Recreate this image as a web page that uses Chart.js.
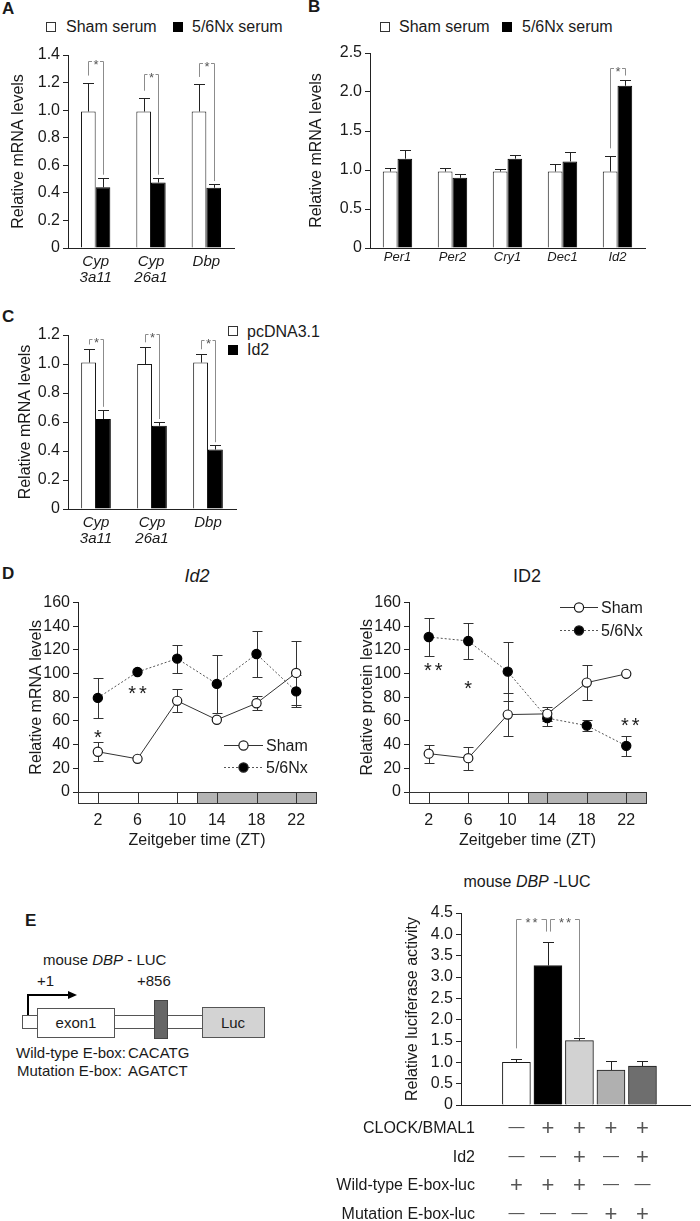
<!DOCTYPE html>
<html><head><meta charset="utf-8">
<script src="https://cdn.jsdelivr.net/npm/chart.js@4.4.1/dist/chart.umd.min.js"></script>
<style>
html,body{margin:0;padding:0;background:#fff}
body{width:700px;height:1221px;position:relative;overflow:hidden;font-family:"Liberation Sans",Arial,Helvetica,sans-serif;color:#1a1a1a}
canvas{position:absolute}
.t{position:absolute;white-space:nowrap;line-height:16px;font-size:16px}
.t15{position:absolute;white-space:nowrap;line-height:15px;font-size:15px}
.L{position:absolute;font-weight:bold;font-size:17px;line-height:17px}
.sq{position:absolute;width:8px;height:8px;border:1px solid #333;background:#fff}
.sq.b{background:#000;border-color:#000}
.box{position:absolute;box-sizing:border-box;border:1px solid #555}
</style></head><body>

<!-- panel letters -->
<div class="L" style="left:2px;top:0px">A</div>
<div class="L" style="left:308px;top:-2px">B</div>
<div class="L" style="left:2px;top:308px">C</div>
<div class="L" style="left:2px;top:565px">D</div>
<div class="L" style="left:25px;top:912px">E</div>

<!-- legend A -->
<div class="sq" style="left:46px;top:22px"></div><div class="t" style="left:66px;top:19px">Sham serum</div>
<div class="sq b" style="left:173px;top:22px"></div><div class="t" style="left:192px;top:19px">5/6Nx serum</div>
<!-- legend B -->
<div class="sq" style="left:380px;top:22px"></div><div class="t" style="left:399px;top:19px">Sham serum</div>
<div class="sq b" style="left:502px;top:22px"></div><div class="t" style="left:522px;top:19px">5/6Nx serum</div>
<!-- legend C -->
<div class="sq" style="left:228px;top:326px"></div><div class="t" style="left:247px;top:324px">pcDNA3.1</div>
<div class="sq b" style="left:228px;top:345px"></div><div class="t" style="left:247px;top:342px">Id2</div>

<!-- D titles -->
<div class="t" style="left:197px;top:567px;font-size:18px;line-height:18px;font-style:italic;transform:translateX(-50%)">Id2</div>
<div class="t" style="left:527px;top:567px;font-size:18px;line-height:18px;transform:translateX(-50%)">ID2</div>

<!-- E right title -->
<div class="t" style="left:527px;top:874px;transform:translateX(-50%)">mouse <i>DBP</i> -LUC</div>

<!-- E left construct diagram -->
<div class="t15" style="left:43px;top:952px">mouse <i>DBP</i> - LUC</div>
<div class="t15" style="left:37px;top:973px">+1</div>
<div class="t15" style="left:137px;top:973px">+856</div>
<div style="position:absolute;left:27px;top:994px;width:2px;height:21px;background:#000"></div>
<div style="position:absolute;left:27px;top:994px;width:42px;height:2px;background:#000"></div>
<div style="position:absolute;left:68px;top:991px;width:0;height:0;border-top:4px solid transparent;border-bottom:4px solid transparent;border-left:9px solid #000"></div>
<div class="box" style="left:22px;top:1015px;width:182px;height:14px;background:#fff"></div>
<div class="box" style="left:37px;top:1008px;width:78px;height:30px;background:#fff"></div>
<div class="t15" style="left:76px;top:1015px;transform:translateX(-50%)">exon1</div>
<div class="box" style="left:154px;top:1000px;width:14px;height:39px;background:#666;border-color:#444"></div>
<div class="box" style="left:202px;top:1007px;width:63px;height:31px;background:#d3d3d3"></div>
<div class="t15" style="left:233px;top:1015px;transform:translateX(-50%)">Luc</div>
<div class="t15" style="left:16px;top:1045px;width:106px;text-align:right">Wild-type E-box:</div>
<div class="t15" style="left:128px;top:1045px">CACATG</div>
<div class="t15" style="left:16px;top:1063px;width:106px;text-align:right">Mutation E-box:</div>
<div class="t15" style="left:128px;top:1063px">AGATCT</div>

<script>
// ---------------- DATA ----------------
const genesA = [['Cyp','3a11'], ['Cyp','26a1'], 'Dbp'];
const shamA = [0.99, 0.99, 0.99];
const shamA_sem = [0.21, 0.10, 0.20];
const nxA = [0.44, 0.475, 0.437];
const nxA_sem = [0.07, 0.035, 0.027];
const bracketTopA = [1.355, 1.26, 1.345];

const genesB = ['Per1', 'Per2', 'Cry1', 'Dec1', 'Id2'];
const shamB = [0.98, 0.98, 0.98, 0.98, 0.98];
const shamB_sem = [0.04, 0.05, 0.03, 0.10, 0.195];
const nxB = [1.145, 0.90, 1.145, 1.11, 2.08];
const nxB_sem = [0.115, 0.05, 0.045, 0.125, 0.08];
const bracketTopB = 2.31;

const genesC = [['Cyp','3a11'], ['Cyp','26a1'], 'Dbp'];
const pcC = [1.01, 1.0, 1.01];
const pcC_sem = [0.09, 0.115, 0.057];
const id2C = [0.62, 0.574, 0.41];
const id2C_sem = [0.064, 0.026, 0.03];
const bracketTopC = [1.17, 1.21, 1.166];

const ztHours = [2, 6, 10, 14, 18, 22];
const mrnaSham = [34, 28, 77, 61, 75, 100.6];
const mrnaSham_sem = [8.2, 0, 9.8, 0, 6, 26.8];
const mrnaNx = [79.5, 101.4, 112.7, 91.3, 116.6, 85];
const mrnaNx_sem = [16.6, 0, 11.8, 24.7, 19.5, 13.5];
const protSham = [32.4, 28.6, 65.4, 66, 92.4, 99.8];
const protSham_sem = [7.5, 9.7, 18.5, 6, 14.8, 0];
const protNx = [130.9, 127.6, 101.7, 62.4, 56.1, 39];
const protNx_sem = [16.4, 15.5, 25, 7, 4.5, 8.5];
const lightDark = [[0, 12, '#ffffff'], [12, 24, '#b4b4b4']];

const lucGroups = [1, 2, 3, 4, 5];
const lucValues = [1.0, 3.27, 1.51, 0.82, 0.91];
const lucSem = [0.07, 0.56, 0.05, 0.2, 0.12];
const lucColors = ['#ffffff', '#000000', '#d2d2d2', '#b0b0b0', '#6e6e6e'];
const rowClock = ['—', '+', '+', '+', '+'];
const rowId2 = ['—', '—', '+', '—', '+'];
const rowWT = ['+', '+', '+', '—', '—'];
const rowMut = ['—', '—', '—', '+', '+'];

// ---------------- HELPERS ----------------
const FONT = '"Liberation Sans", Arial, Helvetica, sans-serif';
Chart.defaults.font.family = FONT;
Chart.defaults.color = '#1a1a1a';
Chart.defaults.animation = false;

function mk(left, top, w, h) {
  const c = document.createElement('canvas');
  c.width = w; c.height = h;
  c.style.left = left + 'px'; c.style.top = top + 'px';
  c.style.width = w + 'px'; c.style.height = h + 'px';
  document.body.appendChild(c);
  return c.getContext('2d');
}
const val = d => (d !== null && typeof d === 'object') ? d.y : d;

function stars(ctx, text, x, yc, size, color) {
  ctx.save();
  ctx.font = size + 'px ' + FONT;
  ctx.fillStyle = color;
  ctx.textAlign = 'center';
  ctx.textBaseline = 'alphabetic';
  let sp = 0;
  if (text.length > 1 && 'letterSpacing' in ctx) { sp = Math.round(size * 0.15); ctx.letterSpacing = sp + 'px'; }
  ctx.fillText(text, x + sp / 2, yc + 0.6 * size);
  ctx.restore();
}

const errBars = {
  id: 'errbars',
  beforeDatasetsDraw(chart, a, o) {
    const ctx = chart.ctx, ys = chart.scales.y;
    ctx.save(); ctx.strokeStyle = o.color || '#222'; ctx.lineWidth = 1;
    chart.data.datasets.forEach((ds, di) => {
      if (!ds.sem) return;
      chart.getDatasetMeta(di).data.forEach((el, i) => {
        const s = ds.sem[i]; if (!s) return;
        const v = val(ds.data[i]);
        const x = Math.round(el.x) + 0.5, hw = o.cap / 2;
        const yT = Math.round(ys.getPixelForValue(v + s)) + 0.5;
        const yB = o.both ? Math.round(ys.getPixelForValue(v - s)) + 0.5 : ys.getPixelForValue(v);
        ctx.beginPath();
        ctx.moveTo(x, yT); ctx.lineTo(x, yB);
        ctx.moveTo(x - hw, yT); ctx.lineTo(x + hw, yT);
        if (o.both) { ctx.moveTo(x - hw, yB); ctx.lineTo(x + hw, yB); }
        ctx.stroke();
      });
    });
    ctx.restore();
  }
};

const brackets = {
  id: 'brackets',
  afterDatasetsDraw(chart, a, o) {
    const ctx = chart.ctx, ys = chart.scales.y;
    const pt = (d, i) => {
      const ds = chart.data.datasets[d], el = chart.getDatasetMeta(d).data[i];
      return { x: el.x, y: ys.getPixelForValue(val(ds.data[i]) + (ds.sem ? ds.sem[i] : 0)) };
    };
    ctx.save(); ctx.strokeStyle = '#8c8c8c'; ctx.lineWidth = 1;
    (o.items || []).forEach(it => {
      const A = pt(it.a[0], it.a[1]), B = pt(it.b[0], it.b[1]);
      const xa = Math.round(A.x + (it.dxa || 0)) + 0.5, xb = Math.round(B.x + (it.dxb || 0)) + 0.5;
      const yt = Math.round(ys.getPixelForValue(it.top)) + 0.5;
      const mid = (xa + xb) / 2, half = it.half;
      ctx.beginPath();
      ctx.moveTo(xa, A.y - it.gapA); ctx.lineTo(xa, yt); ctx.lineTo(mid - half, yt);
      ctx.moveTo(mid + half, yt); ctx.lineTo(xb, yt); ctx.lineTo(xb, B.y - it.gapB);
      ctx.stroke();
      stars(ctx, it.text, mid, yt, it.size, '#555');
    });
    ctx.restore();
  }
};

const notes = {
  id: 'notes',
  afterDraw(chart, a, o) {
    const ctx = chart.ctx, xs = chart.scales.x, ys = chart.scales.y;
    (o.items || []).forEach(n => stars(ctx, n.t, xs.getPixelForValue(n.x), ys.getPixelForValue(n.y), 20, '#1a1a1a'));
  }
};

const ldBar = {
  id: 'ldbar',
  afterDraw(chart, a, o) {
    const ctx = chart.ctx, xs = chart.scales.x, top = chart.chartArea.bottom + 0.5, h = 11;
    ctx.save(); ctx.strokeStyle = '#333'; ctx.lineWidth = 1;
    o.segments.forEach(([f, t, c]) => {
      const x0 = Math.round(xs.getPixelForValue(f)) + 0.5, x1 = Math.round(xs.getPixelForValue(t)) + 0.5;
      ctx.fillStyle = c; ctx.fillRect(x0, top, x1 - x0, h); ctx.strokeRect(x0, top, x1 - x0, h);
    });
    ctx.beginPath();
    o.ticks.forEach(v => { const x = Math.round(xs.getPixelForValue(v)) + 0.5; ctx.moveTo(x, top); ctx.lineTo(x, top + h); });
    ctx.stroke();
    ctx.restore();
  }
};

const lineLegend = {
  id: 'lineLegend',
  afterDraw(chart, a, o) {
    const ctx = chart.ctx;
    ctx.save();
    o.items.forEach(it => {
      ctx.strokeStyle = it.stroke; ctx.lineWidth = 1; ctx.setLineDash(it.dash || []);
      ctx.beginPath(); ctx.moveTo(it.x0, it.y + 0.5); ctx.lineTo(it.x1, it.y + 0.5); ctx.stroke();
      ctx.setLineDash([]);
      ctx.beginPath(); ctx.arc((it.x0 + it.x1) / 2, it.y + 0.5, 4.6, 0, Math.PI * 2);
      ctx.fillStyle = it.fill; ctx.fill(); ctx.strokeStyle = '#1a1a1a'; ctx.lineWidth = 1.2; ctx.stroke();
      ctx.font = '16px ' + FONT; ctx.fillStyle = '#1a1a1a'; ctx.textBaseline = 'alphabetic'; ctx.textAlign = 'left';
      ctx.fillText(it.text, it.x1 + 3, it.y + 6);
    });
    ctx.restore();
  }
};

const table = {
  id: 'table',
  afterDraw(chart, a, o) {
    const ctx = chart.ctx, meta = chart.getDatasetMeta(0);
    ctx.save();
    o.rows.forEach((r, ri) => {
      const y = o.ys[ri];
      ctx.font = '16px ' + FONT; ctx.fillStyle = '#1a1a1a'; ctx.textAlign = 'right'; ctx.textBaseline = 'alphabetic';
      ctx.fillText(r.label, o.labelX, y + 5.8);
      r.cells.forEach((c, i) => {
        const x = meta.data[i].x;
        ctx.fillStyle = '#555'; ctx.textAlign = 'center';
        if (c === '+') { ctx.font = '22px ' + FONT; ctx.fillText('+', x, y + 7.6); }
        else { ctx.font = '16px ' + FONT; ctx.fillText('—', x, y + 5); }
      });
    });
    ctx.restore();
  }
};

function yAxis(min, max, step, fmt, title, tpad, width) {
  return {
    type: 'linear', min, max,
    ticks: { stepSize: step, autoSkip: false, font: { size: 16 }, color: '#1a1a1a', padding: 3, callback: fmt },
    grid: { display: true, drawOnChartArea: false, drawTicks: true, tickLength: 5, color: '#222' },
    border: { display: true, color: '#222', width: 1 },
    title: { display: true, text: title, font: { size: 16 }, color: '#1a1a1a', padding: { top: tpad, bottom: 0 } },
    afterFit: s => { s.width = width; }
  };
}
const f1 = v => v === 0 ? '0' : v.toFixed(1);
const f0 = v => String(Math.round(v));

function barChart(ctx, labels, d0, s0, d1, s1, o) {
  return new Chart(ctx, {
    type: 'bar',
    data: {
      labels,
      datasets: [
        { data: d0, sem: s0, backgroundColor: '#fff', borderColor: '#1a1a1a', borderWidth: 1, categoryPercentage: o.cp, barPercentage: 1 },
        { data: d1, sem: s1, backgroundColor: '#000', borderColor: '#000', borderWidth: 1, categoryPercentage: o.cp, barPercentage: 1 }
      ]
    },
    options: {
      responsive: false, devicePixelRatio: 1,
      layout: { padding: { top: o.pt, right: o.pr, left: 0, bottom: 0 } },
      plugins: { legend: { display: false }, tooltip: { enabled: false },
        errbars: { cap: 11, both: false }, brackets: { items: o.brackets } },
      scales: {
        x: { type: 'category', grid: { display: false, drawTicks: false }, border: { display: true, color: '#222' },
             ticks: { font: { size: o.lf, style: 'italic', lineHeight: 1.05 }, color: '#1a1a1a', padding: o.lp, maxRotation: 0, autoSkip: false },
             afterFit: s => { s.height = o.xh; } },
        y: yAxis(0, o.max, o.step, f1, 'Relative mRNA levels', o.tp, o.yw)
      }
    },
    plugins: [errBars, brackets]
  });
}

const brA = bracketTopA.map((t, i) => ({ a: [0, i], b: [1, i], top: t, text: '*', gapA: 7, gapB: 3, half: 4, size: 13 }));
barChart(mk(0, 40, 240, 260), genesA, shamA, shamA_sem, nxA, nxA_sem,
  { cp: 0.53, pt: 15, pr: 6, xh: 52, yw: 68, max: 1.4, step: 0.2, tp: 9, lf: 15, lp: 6, brackets: brA });

barChart(mk(300, 40, 400, 260), genesB, shamB, shamB_sem, nxB, nxB_sem,
  { cp: 0.535, pt: 13, pr: 55, xh: 52, yw: 70, max: 2.5, step: 0.5, tp: 7, lf: 13, lp: 3,
    brackets: [{ a: [0, 4], b: [1, 4], top: bracketTopB, text: '*', gapA: 8, gapB: 4, half: 4, size: 13 }] });

const brC = bracketTopC.map((t, i) => ({ a: [0, i], b: [1, i], top: t, text: '*', gapA: 5, gapB: 3, half: 4, size: 13 }));
barChart(mk(0, 300, 240, 280), genesC, pcC, pcC_sem, id2C, id2C_sem,
  { cp: 0.53, pt: 35, pr: 4, xh: 71, yw: 68, max: 1.2, step: 0.2, tp: 16, lf: 15, lp: 6, brackets: brC });

function lineChart(ctx, s0, e0, s1, e1, o) {
  const pts = arr => ztHours.map((h, i) => ({ x: h, y: arr[i] }));
  return new Chart(ctx, {
    type: 'line',
    data: { datasets: [
      { data: pts(s0), sem: e0, borderColor: '#333', borderWidth: 1, pointRadius: 4.6, pointBackgroundColor: '#fff', pointBorderColor: '#1a1a1a', pointBorderWidth: 1.2, tension: 0 },
      { data: pts(s1), sem: e1, borderColor: '#555', borderWidth: 1, borderDash: [2, 2], pointRadius: 4.6, pointBackgroundColor: '#000', pointBorderColor: '#000', pointBorderWidth: 1.2, tension: 0 }
    ] },
    options: {
      responsive: false, devicePixelRatio: 1,
      layout: { padding: { top: 8, right: o.pr, left: 0, bottom: 0 } },
      plugins: { legend: { display: false }, tooltip: { enabled: false },
        errbars: { cap: 10, both: true, color: '#333' },
        notes: { items: o.notes },
        ldbar: { segments: lightDark, ticks: ztHours },
        lineLegend: { items: o.legend } },
      scales: {
        x: { type: 'linear', min: 0, max: 24,
             afterBuildTicks: s => { s.ticks = ztHours.map(v => ({ value: v })); },
             ticks: { font: { size: 16 }, color: '#1a1a1a', padding: 19, callback: f0 },
             grid: { display: false, drawTicks: false }, border: { display: false },
             title: { display: true, text: 'Zeitgeber time (ZT)', font: { size: 16 }, color: '#1a1a1a', padding: { top: 0, bottom: 5 } },
             afterFit: s => { s.height = 63; } },
        y: yAxis(0, 160, 20, f0, o.ytitle, o.tp, o.yw)
      }
    },
    plugins: [errBars, notes, ldBar, lineLegend]
  });
}

lineChart(mk(0, 590, 350, 265), mrnaSham, mrnaSham_sem, mrnaNx, mrnaNx_sem, {
  pr: 34, yw: 78, tp: 27, ytitle: 'Relative mRNA levels',
  notes: [{ x: 2, y: 51, t: '*' }, { x: 6, y: 88, t: '**' }],
  legend: [{ x0: 224, x1: 263, y: 155, stroke: '#333', fill: '#fff', text: 'Sham' },
           { x0: 224, x1: 263, y: 177, stroke: '#555', dash: [2, 2], fill: '#000', text: '5/6Nx' }]
});
lineChart(mk(350, 590, 350, 265), protSham, protSham_sem, protNx, protNx_sem, {
  pr: 54, yw: 59, tp: 8, ytitle: 'Relative protein levels',
  notes: [{ x: 2.45, y: 107.5, t: '**' }, { x: 6, y: 91.8, t: '*' }, { x: 22.4, y: 60.8, t: '**' }],
  legend: [{ x0: 210, x1: 248, y: 17, stroke: '#333', fill: '#fff', text: 'Sham' },
           { x0: 210, x1: 248, y: 40, stroke: '#555', dash: [2, 2], fill: '#000', text: '5/6Nx' }]
});

// Panel E luciferase
new Chart(mk(300, 860, 400, 361), {
  type: 'bar',
  data: { datasets: [{
    data: lucGroups.map((g, i) => ({ x: g, y: lucValues[i] })), sem: lucSem,
    backgroundColor: lucColors, borderColor: '#1a1a1a', borderWidth: 1, barThickness: 28
  }] },
  options: {
    responsive: false, devicePixelRatio: 1,
    layout: { padding: { top: 53, right: 10, left: 0, bottom: 0 } },
    plugins: { legend: { display: false }, tooltip: { enabled: false },
      errbars: { cap: 11, both: false },
      brackets: { items: [
        { a: [0, 0], b: [0, 1], top: 4.35, text: '**', gapA: 11, gapB: 10, dxb: -2, half: 10, size: 13 },
        { a: [0, 1], b: [0, 2], top: 4.35, text: '**', gapA: 10, gapB: 1, dxa: 2, half: 10, size: 13 }
      ] },
      table: { labelX: 175, ys: [267, 296, 324, 353], rows: [
        { label: 'CLOCK/BMAL1', cells: rowClock },
        { label: 'Id2', cells: rowId2 },
        { label: 'Wild-type E-box-luc', cells: rowWT },
        { label: 'Mutation E-box-luc', cells: rowMut }
      ] } },
    scales: {
      x: { type: 'linear', min: 0.15, max: 5.6, ticks: { display: false },
           grid: { display: false, drawTicks: false }, border: { display: true, color: '#222' },
           afterFit: s => { s.height = 116; } },
      y: yAxis(0, 4.5, 0.5, f1, 'Relative luciferase activity', 103, 161)
    }
  },
  plugins: [errBars, brackets, table]
});
</script>
</body></html>
